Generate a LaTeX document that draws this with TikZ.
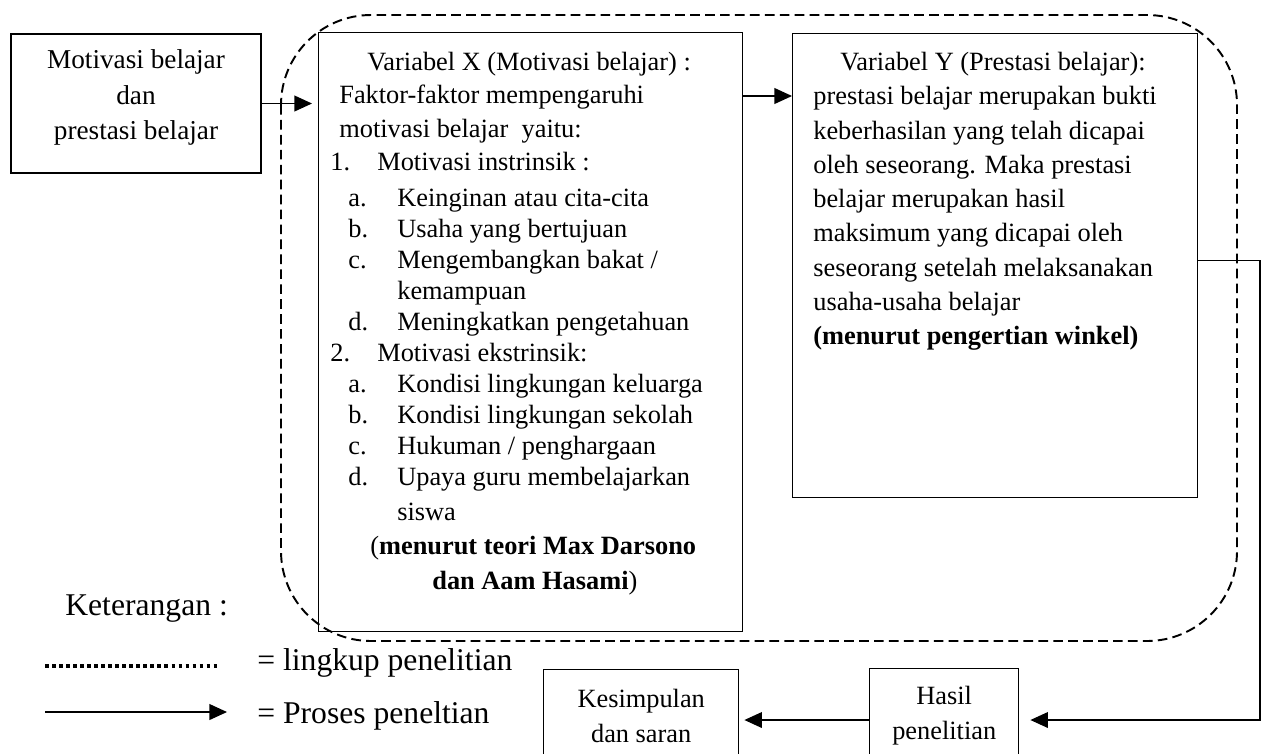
\documentclass[tikz,border=0pt]{standalone}
\usepackage{fontspec}
\setmainfont{Liberation Serif}
\usetikzlibrary{arrows.meta}
\tikzstyle{box} = [rectangle, draw=black, line width=0.8pt, inner sep=0pt, align=center, font=\fontsize{15}{20}\selectfont]
\tikzstyle{txt} = [inner sep=0pt, align=left, anchor=north west]
\tikzstyle{legend} = [inner sep=0pt, anchor=base west, font=\fontsize{18}{22}\selectfont]
\tikzstyle{arrow} = [line width=0.7pt, -{Triangle[length=10pt,width=9pt]}]
\tikzstyle{lingkupline} = [line width=1.1pt, dash pattern=on 5.5pt off 3pt]
\tikzstyle{dotline} = [line width=2.2pt, dash pattern=on 2pt off 2pt]

\begin{document}
\begin{tikzpicture}
\useasboundingbox (0,0) rectangle (25.24,-15.06);
\clip (0,0) rectangle (25.24,-15.06);

% Boxes
\node[box, minimum width=5cm, minimum height=2.78cm, font=\fontsize{15.5}{20.2}\selectfont] (mot) at (2.72,-2.07) {\raisebox{0pt}[0pt][0pt]{\begin{tabular}{@{}c@{}}Motivasi belajar\\dan\\prestasi belajar\end{tabular}}};
\node[box, minimum width=8.48cm, minimum height=11.98cm, anchor=north west] (varx) at (6.36,-0.64) {};
\node[box, minimum width=8.1cm, minimum height=9.28cm, anchor=north west] (vary) at (15.84,-0.66) {};
\node[box, minimum width=3.9cm, minimum height=1.84cm, anchor=north west] (kes) at (10.86,-13.38) {Kesimpulan\\dan saran};
\node[box, minimum width=2.98cm, minimum height=1.88cm, anchor=north west] (hasil) at (17.38,-13.36) {Hasil\\penelitian};

% Box texts
\node[txt, font=\fontsize{15}{17.6}\selectfont] (varxtext) at (6.6,-1.04) {%
\hspace*{0.74cm}Variabel X (Motivasi belajar) :\\[1pt]
\hspace*{0.18cm}Faktor-faktor mempengaruhi\\[2pt]
\hspace*{0.18cm}motivasi belajar\ \ yaitu:\\[1pt]
\makebox[0.94cm][l]{1.}Motivasi instrinsik :\\[3pt]
\hspace*{0.36cm}\makebox[0.98cm][l]{a.}Keinginan atau cita-cita\\
\hspace*{0.36cm}\makebox[0.98cm][l]{b.}Usaha yang bertujuan\\
\hspace*{0.36cm}\makebox[0.98cm][l]{c.}Mengembangkan bakat /\\
\hspace*{1.34cm}kemampuan\\
\hspace*{0.36cm}\makebox[0.98cm][l]{d.}Meningkatkan pengetahuan\\
\makebox[0.94cm][l]{2.}Motivasi ekstrinsik:\\
\hspace*{0.36cm}\makebox[0.98cm][l]{a.}Kondisi lingkungan keluarga\\
\hspace*{0.36cm}\makebox[0.98cm][l]{b.}Kondisi lingkungan sekolah\\
\hspace*{0.36cm}\makebox[0.98cm][l]{c.}Hukuman / penghargaan\\
\hspace*{0.36cm}\makebox[0.98cm][l]{d.}Upaya guru membelajarkan\\[2.5pt]
\hspace*{1.34cm}siswa\\[2pt]
\hspace*{0.8cm}(\textbf{menurut teori Max Darsono}\\[2pt]
\hspace*{2.04cm}\textbf{dan Aam Hasami})};
\node[txt, font=\fontsize{15}{19.5}\selectfont] (varytext) at (16.26,-1.04) {%
\hspace*{0.54cm}Variabel Y (Prestasi belajar):\\
prestasi belajar merupakan bukti\\
keberhasilan yang telah dicapai\\
oleh seseorang. Maka prestasi\\
belajar merupakan hasil\\
maksimum yang dicapai oleh\\
seseorang setelah melaksanakan\\
usaha-usaha belajar\\
\textbf{(menurut pengertian winkel)}};

% Scope of the study
\draw[lingkupline, rounded corners=1.8cm] (5.62,-0.3) rectangle (24.74,-12.82);

% Process
\coordinate (turn) at (25.2,-14.4);
\draw[arrow, shorten >=0.12cm] (mot.east) -- (mot.east -| varx.west);
\draw[arrow] ([yshift=-1.28cm]varx.north east) -- ([yshift=-1.26cm]vary.north west);
\draw[arrow, shorten >=0.22cm] ([yshift=0.1cm]vary.east) -| (turn) -- (turn -| hasil.east);
\draw[arrow, shorten >=0.1cm] (hasil.west |- turn) -- (kes.east |- turn);

% Legend
\node[legend] (ket) at (1.3,-12.3) {Keterangan :};
\coordinate (dotA) at (0.9,-13.32);
\coordinate (dotB) at (4.36,-13.32);
\draw[dotline] (dotA) -- (dotB);
\node[legend] (lingkup) at (5.14,-13.4) {= lingkup penelitian};
\coordinate (arrA) at (0.9,-14.24);
\coordinate (arrB) at (4.54,-14.24);
\draw[arrow] (arrA) -- (arrB);
\node[legend] (proses) at (5.14,-14.46) {= Proses peneltian};

\end{tikzpicture}
\end{document}
